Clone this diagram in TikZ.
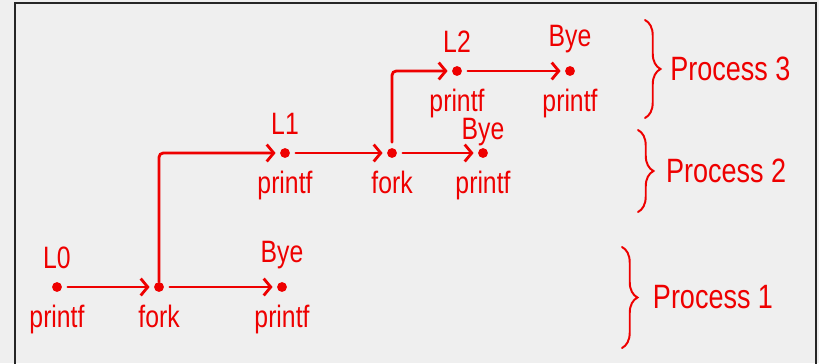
\documentclass[tikz,border=0pt]{standalone}
\usepackage{fontspec}
\setmainfont{Liberation Sans}[FakeStretch=0.8]
\usepackage{xcolor}
\usetikzlibrary{arrows.meta,decorations.pathreplacing}

\definecolor{ink}{RGB}{238,0,0}
\definecolor{paper}{RGB}{239,239,239}

\tikzset{
  dot/.style={circle,fill=ink,inner sep=0pt,minimum size=7pt},
  txtup/.style={label={[yshift=8pt]above:#1}},
  txtdown/.style={label={[yshift=-8pt]below:#1}},
  every label/.style={text=ink,font=\fontsize{22}{23}\selectfont,inner sep=1pt},
  flow/.style={draw=ink,line width=2pt,line cap=round,rounded corners=3pt,
    shorten <=4pt,shorten >=3pt,-{Straight Barb[length=5pt,width=12pt]}},
  brace/.style={draw=ink,line width=1.4pt,line cap=round,decorate,
    decoration={brace,amplitude=11pt}},
  proc/.style={text=ink,font=\fontsize{24}{26}\selectfont,anchor=west}
}

\begin{document}
\begin{tikzpicture}[x=0.025cm,y=-0.025cm]
\useasboundingbox (0,0) rectangle (819,363);
\fill[paper] (0,0) rectangle (819,363);
\draw[line width=1.4pt,black!85] (15,380) |- (816,3) -- (816,380);

% process 1
\node[dot,txtup=L0,txtdown=printf] (l0) at (57,287) {};
\node[dot,txtdown=fork] (fork1) at (159,287) {};
\node[dot,txtup=Bye,txtdown=printf] (bye1) at (282,287) {};
% process 2
\node[dot,txtup=L1,txtdown=printf] (l1) at (285,153) {};
\node[dot,txtdown=fork] (fork2) at (392,153) {};
\node[dot,label=above:Bye,txtdown=printf] (bye2) at (483,153) {};
% process 3
\node[dot,txtup=L2,txtdown=printf] (l2) at (457,71) {};
\node[dot,txtup=Bye,txtdown=printf] (bye3) at (570,71) {};

\draw[flow] (l0) -- (fork1);
\draw[flow] (fork1) -- (bye1);
\draw[flow,shorten <=0pt] (fork1) |- (l1);
\draw[flow] (l1) -- (fork2);
\draw[flow] (fork2) -- (bye2);
\draw[flow] (fork2) |- (l2);
\draw[flow] (l2) -- (bye3);

\draw[brace] (645,20) -- (645,118) node[midway,proc,xshift=14pt] (p3) {Process\ 3};
\draw[brace] (638,130) -- (638,212) node[midway,proc,xshift=16pt] (p2) {Process\ 2};
\draw[brace] (622,247) -- (622,348) node[midway,proc,xshift=18pt] (p1) {Process\ 1};
\end{tikzpicture}
\end{document}
